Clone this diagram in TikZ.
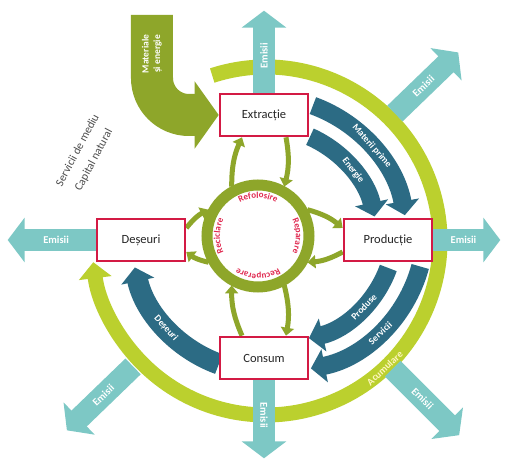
\documentclass[tikz,border=0pt]{standalone}
\usepackage{fontspec}
\setmainfont{Carlito}
\usetikzlibrary{arrows.meta,calc,decorations.text}
\pgfdeclarelayer{background}
\pgfsetlayers{background,main}
\definecolor{boxred}{HTML}{D31A44}
\definecolor{tealc}{HTML}{7DC8C5}
\definecolor{dblue}{HTML}{2C6B84}
\definecolor{olivec}{HTML}{8EA62A}
\definecolor{limec}{HTML}{BBD02E}
\definecolor{ringtxt}{HTML}{E0284F}
\definecolor{loopTxt}{HTML}{FFF6C0}
\begin{document}
\begin{tikzpicture}[x=1pt,y=1pt,
  box/.style={draw=boxred, line width=2.6pt, fill=white, minimum width=88pt,
    minimum height=42pt, font=\fontsize{12.5}{14}\selectfont, text=black!85},
  emis/.style={draw=tealc, line width=22pt, -{Triangle[width=44pt,length=17pt]}},
  emislbl/.style={text=white, font=\bfseries\fontsize{10.5}{12}\selectfont, inner sep=1pt},
  flow/.style={draw=dblue, line width=18pt, -{Triangle[width=33pt,length=14pt]}},
  flowlbl/.style={text=white, font=\bfseries\fontsize{9.5}{11}\selectfont, inner sep=0.5pt},
  ringlink/.style={draw=olivec, line width=5pt, -{Triangle[width=13pt,length=8pt]}},
  ringword/.style={decorate, decoration={text along path, text align=center,
    text color=ringtxt, text={|\bfseries\fontsize{9}{10}\selectfont|#1}}},
  natlbl/.style={rotate=62, text=black!70, font=\fontsize{11.5}{13}\selectfont, inner sep=0.5pt},
]
% the four stages
\node[box] (ext)  at (0,125)   {Extracție};
\node[box] (prod) at (124,0)   {Producție};
\node[box] (cons) at (0,-118)  {Consum};
\node[box] (des)  at (-123,0)  {Deșeuri};

\begin{pgfonlayer}{background}
\path[use as bounding box, fill=white] (-264,-225) rectangle (243,240);
\coordinate (c0) at (0,0);
\coordinate (cr) at (-6,4);   % recycling ring centre
\coordinate (cl) at (2,-1);   % outer loop centre
\coordinate (cb) at (20,10);  % centre of the product/service arcs

% outer loop
\draw[limec, line width=15pt, -{Triangle[width=32pt,length=16pt]}]
  ($(cl)+(108:174)$) arc[start angle=108, end angle=-173, radius=174];
\node[rotate=43, text=loopTxt, font=\bfseries\fontsize{10}{11}\selectfont, inner sep=0.5pt] (acc)
  at ($(cl)+(-47:174)$) {Acumulare};

% emissions
\draw[emis] (ext.north) -- ++(0,82) node[pos=0.45, sloped, emislbl] {Emisii};
\draw[emis] (prod.east) -- ++(67,0) node[pos=0.45, sloped, emislbl] {Emisii};
\draw[emis] (des.west) -- ++(-88,0) node[pos=0.45, sloped, emislbl] {Emisii};
\draw[emis] (cons.south) -- ++(0,-78) node[pos=0.45, sloped, emislbl] {Emisii};
\draw[emis] ($(c0)+(44:182)$) -- ($(c0)+(44:270)$) node[pos=0.45, sloped, emislbl] {Emisii};
\draw[emis] ($(c0)+(-45:182)$) -- ($(c0)+(-45:276)$) node[pos=0.45, sloped, emislbl] {Emisii};
\draw[emis] ($(c0)+(224:182)$) -- ($(c0)+(224:274)$) node[pos=0.45, sloped, emislbl] {Emisii};

% materials and energy input
\draw[olivec, line width=42pt, -{Triangle[width=66pt,length=24pt]}]
  (-112,225) -- (-112,162) arc[start angle=180, end angle=270, radius=37] -- (ext.west);
\node[rotate=90, align=center, text=white, font=\bfseries\fontsize{9.5}{11.5}\selectfont] (mat)
  at (-112,186) {Materiale\\și energie};

% natural capital label, two lines along the same slant
\node[natlbl] (nat1) at (-187,90) {Servicii de mediu};
\node[natlbl] (nat2) at (-170,80) {Capital natural};

% main flows
\draw[flow] ($(c0)+(70:143)$) arc[start angle=70, end angle=10, radius=143];
\draw[flow] ($(c0)+(66:113)$) arc[start angle=66, end angle=12, radius=113];
\draw[flow] ($(cb)+(-15:141)$) arc[start angle=-15, end angle=-79, radius=141];
\draw[flow] ($(cb)+(-20:111)$) arc[start angle=-20, end angle=-77, radius=111];
\draw[flow, line width=21pt] ($(c0)+(250:132)$) arc[start angle=250, end angle=192, radius=132];
\node[flowlbl, rotate=-49] (l1) at ($(c0)+(41:143)$) {Materii prime};
\node[flowlbl, rotate=-52] (l2) at ($(c0)+(38:113)$) {Energie};
\node[flowlbl, rotate=43]  (l3) at ($(cb)+(-47:141)$) {Servicii};
\node[flowlbl, rotate=46]  (l4) at ($(cb)+(-44:111)$) {Produse};
\node[flowlbl, rotate=-48] (l5) at ($(c0)+(222:132)$) {Deșeuri};

% recycling ring with its words
\draw[olivec, line width=11pt] (cr) circle[radius=51];
\path[ringword=Reciclare]  ($(cr)+(225:38)$) arc[start angle=225, end angle=135, radius=38];
\path[ringword=Refolosire] ($(cr)+(135:38)$) arc[start angle=135, end angle=45, radius=38];
\path[ringword=Reparare]   ($(cr)+(45:38)$)  arc[start angle=45, end angle=-45, radius=38];
\path[ringword=Recuperare] ($(cr)+(-45:38)$) arc[start angle=-45, end angle=-135, radius=38];

% links between ring and stages
\draw[ringlink] ($(cr)+(118:56)$) to[bend left=12] ($(ext.south)+(-22,0)$);
\draw[ringlink] ($(ext.south)+(22,0)$) to[bend left=12] ($(cr)+(62:56)$);
\draw[ringlink] ($(cr)+(28:56)$) to[bend left=12] ($(prod.west)+(0,12)$);
\draw[ringlink] ($(prod.west)+(0,-12)$) to[bend left=12] ($(cr)+(-28:56)$);
\draw[ringlink] ($(cr)+(-62:56)$) to[bend left=12] ($(cons.north)+(22,0)$);
\draw[ringlink] ($(cons.north)+(-22,0)$) to[bend left=12] ($(cr)+(242:56)$);
\draw[ringlink] ($(cr)+(208:56)$) to[bend left=12] ($(des.east)+(0,-12)$);
\draw[ringlink] ($(des.east)+(0,12)$) to[bend left=12] ($(cr)+(152:56)$);
\end{pgfonlayer}
\end{tikzpicture}
\end{document}
